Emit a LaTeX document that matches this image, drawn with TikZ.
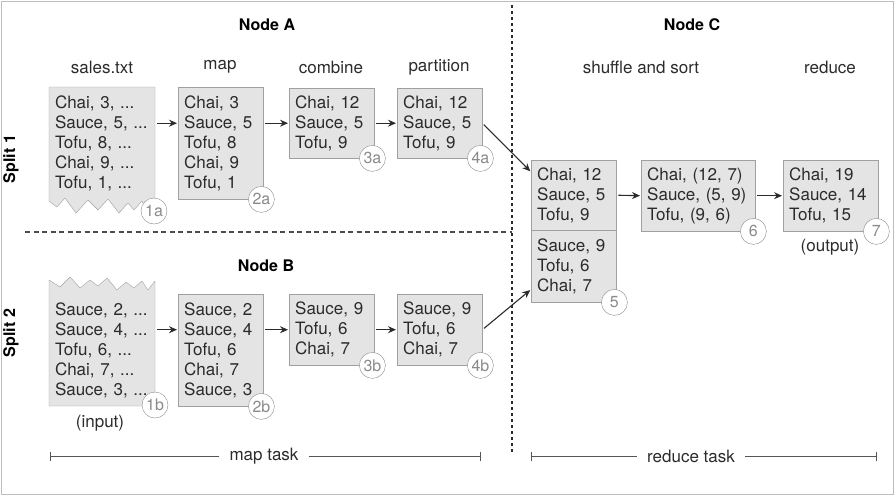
\documentclass[tikz,border=0pt]{standalone}
\usepackage{fontspec}
\setmainfont{TeX Gyre Heros}
\usetikzlibrary{arrows.meta}

\definecolor{boxfill}{HTML}{E4E4E4}
\definecolor{boxline}{HTML}{A0A0A0}
\definecolor{inktext}{HTML}{2B2B2B}
\definecolor{tagline}{HTML}{8A8A8A}
\definecolor{framegray}{HTML}{BDBDBD}

\begin{document}
\begin{tikzpicture}
[x=1pt,y=-1pt,
  databox/.style={shape=rectangle,draw=boxline,fill=boxfill,anchor=north west,
    inner xsep=6pt,inner ysep=0pt,align=left,text=inktext,
    font=\fontsize{17}{20}\selectfont},%
  datatext/.style={inner xsep=6pt,inner ysep=0pt,align=left,text=inktext,
    font=\fontsize{17}{20}\selectfont},%
  tornbox/.style={draw=boxline,fill=boxfill,line join=round},%
  tagcircle/.style={shape=circle,draw=tagline,fill=white,minimum size=26pt,
    inner sep=0pt,text=tagline,font=\fontsize{16}{16}\selectfont},%
  headlabel/.style={text=inktext,font=\fontsize{17}{20}\selectfont},%
  titlelabel/.style={text=black,font=\fontsize{16}{18}\selectfont\bfseries},%
  flowarrow/.style={-{Stealth[length=8pt,width=7pt]},line width=1.1pt,
    draw=inktext,shorten <=2pt,shorten >=1pt},%
  spanline/.style={-{Bar[width=9pt]},line width=0.9pt,draw=inktext!80},%
  splitline/.style={draw=inktext!85,line width=1.2pt,dash pattern=on 5pt off 3.5pt},%
  nodeline/.style={draw=inktext,line width=1.4pt,dash pattern=on 3pt off 3pt}]
\useasboundingbox (0,0) rectangle (896,496);
\draw[framegray,line width=1pt] (1,1) rectangle (893,494);
%% dividers
\coordinate (splitL) at (25,232);
\coordinate (splitR) at (512,232);
\coordinate (nodeT) at (512,5);
\coordinate (nodeB) at (512,452);
\draw[splitline] (splitL) -- (splitR);
\draw[nodeline] (nodeT) -- (nodeB);
%% titles and column heads
\foreach \nodename/\x/\y/\labeltext in {nodeA/267/25/Node A, nodeB/266/266/Node B,
  nodeC/692/25/Node C} {
  \node[titlelabel] (\nodename) at (\x,\y) {\labeltext};
}
\node[titlelabel,rotate=90] (split1) at (11,159) {Split 1};
\node[titlelabel,rotate=90] (split2) at (11,333) {Split 2};
\foreach \nodename/\x/\labeltext in {hsales/102/sales.txt, hmap/220/map,
  hcombine/331/combine, hpartition/439/partition, hshuffle/641/shuffle and sort,
  hreduce/830/reduce} {
  \node[headlabel] (\nodename) at (\x,67) {\labeltext};
}
%% input splits
\draw[tornbox] (49,87) -- (155,87) -- (155,204) -- (148,214) -- (142,201)
  -- (134,210) -- (128,203) -- (119,213) -- (108,199) -- (98,210) -- (88,200)
  -- (76,213) -- (65,198) -- (57,207) -- (49,201) -- cycle;
\node[datatext,text width=94pt] (t1a) at (102,143)
  {Chai, 3, ...\\Sauce, 5, ...\\Tofu, 8, ...\\Chai, 9, ...\\Tofu, 1, ...};
\draw[tornbox] (49,280) -- (60,287) -- (70,277) -- (80,288) -- (90,280)
  -- (98,286) -- (107,278) -- (117,290) -- (126,282) -- (134,288) -- (142,281)
  -- (148,290) -- (155,281) -- (155,406) -- (49,406) -- cycle;
\node[datatext,text width=94pt] (t1b) at (102,350)
  {Sauce, 2, ...\\Sauce, 4, ...\\Tofu, 6, ...\\Chai, 7, ...\\Sauce, 3, ...};
\node[headlabel] (input) at (100,423) {(input)};
%% map side boxes
\node[databox,text width=73pt,minimum height=112pt] (b2a) at (178,87)
  {Chai, 3\\Sauce, 5\\Tofu, 8\\Chai, 9\\Tofu, 1};
\node[databox,text width=73pt,minimum height=70pt] (b3a) at (289,88)
  {Chai, 12\\Sauce, 5\\Tofu, 9};
\node[databox,text width=73pt,minimum height=70pt] (b4a) at (397,88)
  {Chai, 12\\Sauce, 5\\Tofu, 9};
\node[databox,text width=73pt,minimum height=112pt] (b2b) at (178,294)
  {Sauce, 2\\Sauce, 4\\Tofu, 6\\Chai, 7\\Sauce, 3};
\node[databox,text width=73pt,minimum height=71pt] (b3b) at (289,294)
  {Sauce, 9\\Tofu, 6\\Chai, 7};
\node[databox,text width=73pt,minimum height=71pt] (b4b) at (397,294)
  {Sauce, 9\\Tofu, 6\\Chai, 7};
%% reduce side boxes
\node[databox,text width=73pt,minimum height=70pt] (b5top) at (531,160)
  {Chai, 12\\Sauce, 5\\Tofu, 9};
\node[databox,text width=73pt,minimum height=72pt] (b5bot) at (531,230)
  {Sauce, 9\\Tofu, 6\\Chai, 7};
\node[databox,text width=102pt,minimum height=71pt] (b6) at (641,160)
  {Chai, (12, 7)\\Sauce, (5, 9)\\Tofu, (9, 6)};
\node[databox,text width=83pt,minimum height=71pt] (b7) at (783,160)
  {Chai, 19\\Sauce, 14\\Tofu, 15};
\node[headlabel] (output) at (830,247) {(output)};
%% step tags
\node[tagcircle] (tag1a) at (154,211) {1a};
\node[tagcircle] (tag1b) at (155,405) {1b};
\foreach \boxname/\tagtext in {b2a/2a, b3a/3a, b4a/4a, b2b/2b, b3b/3b, b4b/4b,
  b5bot/5, b6/6, b7/7} {
  \node[tagcircle] (tag\tagtext) at ([xshift=-2pt]\boxname.south east) {\tagtext};
}
%% edges
\coordinate (in5a) at ([yshift=-12pt]b5top.north west);
\coordinate (in5b) at ([yshift=13pt]b5bot.south west);
\path
\foreach \startnode/\endnode in {t1a.east |- b3a.west/b2a.west |- b3a.west,
  b2a.east |- b3a.west/b3a.west, b3a.east/b4a.west,
  t1b.east |- b3b.west/b2b.west |- b3b.west,
  b2b.east |- b3b.west/b3b.west, b3b.east/b4b.west} {
  (\startnode) edge[flowarrow] (\endnode)
};
\path
\foreach \startnode/\endnode in {b4a.east/in5a, b4b.east/in5b,
  b5top.east/b6.west, b6.east/b7.west} {
  (\startnode) edge[flowarrow] (\endnode)
};
%% task spans
\node[headlabel,inner xsep=10pt] (maptask) at (264,456) {map task};
\node[headlabel,inner xsep=10pt] (reducetask) at (691,456) {reduce task};
\coordinate (mapL) at (50,456);
\coordinate (mapR) at (481,456);
\coordinate (reduceL) at (531,456);
\coordinate (reduceR) at (877,456);
\path
\foreach \startnode/\endnode in {maptask/mapL, maptask/mapR,
  reducetask/reduceL, reducetask/reduceR} {
  (\startnode) edge[spanline] (\endnode)
};
\end{tikzpicture}
\end{document}
